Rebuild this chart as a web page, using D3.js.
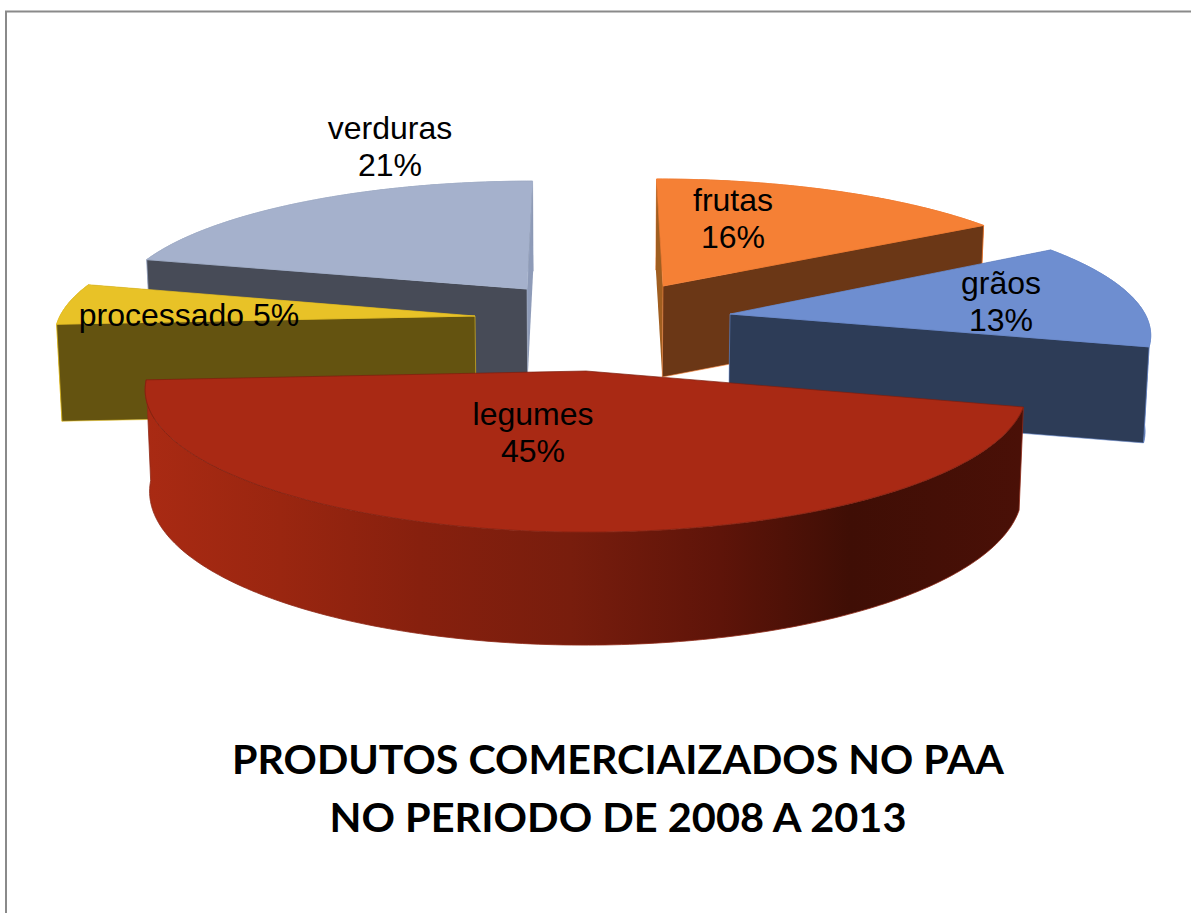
<!DOCTYPE html>
<html>
<head>
<meta charset="utf-8">
<script src="https://cdn.jsdelivr.net/npm/d3@7"></script>
<style>
  html, body { margin: 0; padding: 0; background: #fff; }
  svg { display: block; }
</style>
</head>
<body>
<svg id="chart" width="1191" height="913"></svg>
<script>
// Values
const categories = ['frutas', 'grãos', 'legumes', 'processado', 'verduras'];
const percents = [16, 13, 45, 5, 21];
const titleLines = ['PRODUTOS COMERCIAIZADOS NO PAA', 'NO PERIODO DE 2008 A 2013'];

// Colours per slice
const topColors = ['#F58035', '#6E8ED0', '#A92914', '#E8C227', '#A5B1CC'];
const faceColors = ['#6B3716', '#2D3C57', '#4A1007', '#645310', '#474B57'];
const thinColors = ['#A05E20', '#2D3C57', '#4A1007', '#645310', '#8E9BB8'];

// Exploded slice placement: where the tip lands on screen, radii and thickness
const tipX = [663, 730, 586, 475, 527];
const tipY = [286, 314, 371, 316, 289];
const radiusX = [411, 415, 437, 415, 407];
const radiusY = [121, 128, 140, 130, 122];
const thickness = [91, 96, 100, 97, 90];

// Label placement
const labelX = [733, 1001, 533, 189, 390];
const labelY = [211, 294, 425, 326, 139];
const labelOneLine = [false, false, false, true, false];

const width = 1191;
const height = 913;
const perspective = 0.131;
const converge = 0.1;
const vanishX = 590;

const svg = d3.select('#chart');

// Page frame (top and left only)
svg.append('path')
  .attr('d', `M6,${height}V11.5H${width}`)
  .attr('fill', 'none')
  .attr('stroke', '#8a8a8a')
  .attr('stroke-width', 2);

const arcs = d3.pie().sort(null).startAngle(0).endAngle(2 * Math.PI)(percents);

// Top-surface point of slice i at angle a, on the rim
function rimPoint(i, a) {
  const c = Math.cos(a);
  const s = 1 / (1 + perspective * c);
  return [
    tipX[i] + radiusX[i] * Math.sin(a) * s + (vanishX - tipX[i]) * converge * c * s,
    tipY[i] - radiusY[i] * c * s
  ];
}

// Same point dropped down by the thickness; walls lean in towards the middle
function dropped(i, p, a) {
  const grow = a === null ? 1 : 1 - (i === 2 ? 0.13 : 0) * Math.cos(a);
  return [vanishX + (p[0] - vanishX) * 0.99, p[1] + thickness[i] * grow];
}

const line = d3.line();

function rimSamples(i, a0, a1) {
  const n = Math.max(2, Math.ceil((a1 - a0) * 60));
  return d3.range(n + 1).map(k => a0 + (a1 - a0) * k / n);
}

function cutFace(i, a) {
  const tip = [tipX[i], tipY[i]];
  const rim = rimPoint(i, a);
  return line([tip, rim, dropped(i, rim, a), dropped(i, tip, null)]) + 'Z';
}

// Shading along the big slice's outer wall
const wallShade = d3.scaleLinear()
  .domain([147, 280, 420, 571, 720, 850, 1023])
  .range(['#A92A13', '#9A2610', '#87200E', '#781D0D', '#5E1409', '#3F0E05', '#4A1007']);

const defs = svg.append('defs');
const wallGradient = defs.append('linearGradient')
  .attr('id', 'wall-gradient')
  .attr('gradientUnits', 'userSpaceOnUse')
  .attr('x1', wallShade.domain()[0])
  .attr('x2', wallShade.domain()[6])
  .attr('y1', 0)
  .attr('y2', 0);
wallGradient.selectAll('stop')
  .data(wallShade.domain())
  .join('stop')
  .attr('offset', d => (d - 147) / (1023 - 147))
  .attr('stop-color', d => wallShade(d));

// Back slices first, the big front slice last
const drawOrder = [4, 0, 1, 3, 2];

drawOrder.forEach(i => {
  const d = arcs[i];
  const g = svg.append('g').attr('class', 'slice ' + categories[i]);
  const angles = rimSamples(i, d.startAngle, d.endAngle);
  const rim = angles.map(a => rimPoint(i, a));
  const rimLow = rim.map((p, k) => dropped(i, p, angles[k]));

  // Outer wall
  g.append('path')
    .attr('d', line(rim.concat(rimLow.slice().reverse())) + 'Z')
    .attr('fill', i === 2 ? 'url(#wall-gradient)' : faceColors[i])
    .attr('stroke', i === 2 ? '#8f2a18' : topColors[i])
    .attr('stroke-width', 0.8);

  // Cut faces: the narrow one first, then the broad one
  if (i !== 2) {
    const thinFirst = i === 0 || i === 1;
    const narrow = thinFirst ? d.startAngle : d.endAngle;
    const broad = thinFirst ? d.endAngle : d.startAngle;
    g.append('path')
      .attr('d', cutFace(i, narrow))
      .attr('fill', thinColors[i]);
    g.append('path')
      .attr('d', cutFace(i, broad))
      .attr('fill', faceColors[i])
      .attr('stroke', topColors[i])
      .attr('stroke-width', 0.6);
  }

  // Top surface
  g.append('path')
    .attr('d', line([[tipX[i], tipY[i]]].concat(rim)) + 'Z')
    .attr('fill', topColors[i])
    .attr('stroke', i === 2 ? '#7d1e0e' : topColors[i])
    .attr('stroke-width', 0.7);
});

// Slice labels
categories.forEach((name, i) => {
  const label = svg.append('text')
    .attr('text-anchor', 'middle')
    .attr('font-family', '"Liberation Sans", Arial, sans-serif')
    .attr('font-size', 32)
    .attr('fill', '#000');
  if (labelOneLine[i]) {
    label.append('tspan').attr('x', labelX[i]).attr('y', labelY[i]).text(`${name} ${percents[i]}%`);
  } else {
    label.append('tspan').attr('x', labelX[i]).attr('y', labelY[i]).text(name);
    label.append('tspan').attr('x', labelX[i]).attr('y', labelY[i] + 37).text(`${percents[i]}%`);
  }
});

// Title
const titleWidths = [772, 577];
svg.selectAll('text.title')
  .data(titleLines)
  .join('text')
  .attr('class', 'title')
  .attr('x', 618)
  .attr('y', (d, i) => 774 + i * 58)
  .attr('text-anchor', 'middle')
  .attr('font-family', 'Lato, "Open Sans", sans-serif')
  .attr('font-weight', 700)
  .attr('font-size', 41)
  .attr('textLength', (d, i) => titleWidths[i])
  .attr('lengthAdjust', 'spacingAndGlyphs')
  .attr('fill', '#000')
  .text(d => d);
</script>
</body>
</html>
